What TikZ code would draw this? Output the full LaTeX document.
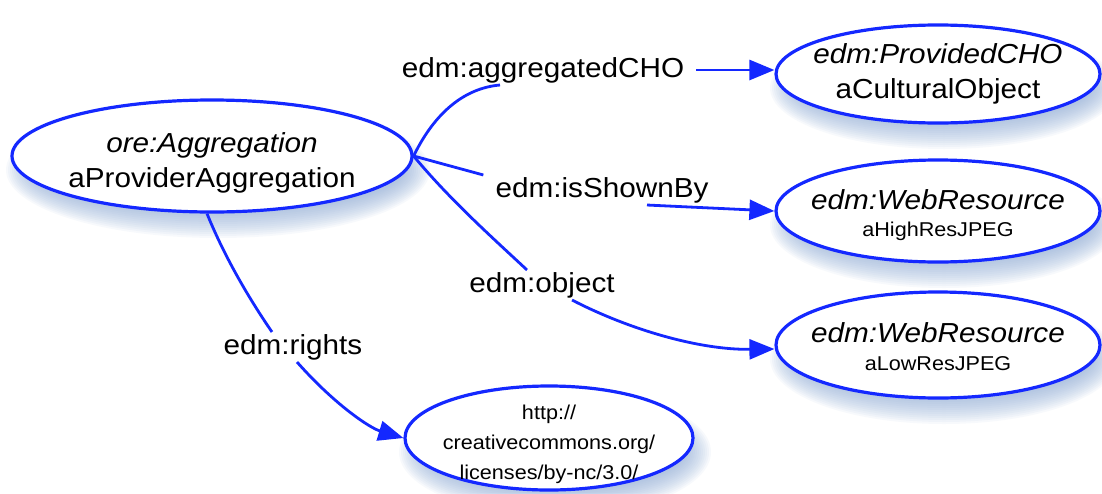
\documentclass[tikz,border=0pt]{standalone}
\usepackage{fontspec}
\setmainfont{Liberation Sans}[FakeStretch=1.08]
\usetikzlibrary{shapes.geometric,arrows.meta,backgrounds}
\definecolor{eblue}{RGB}{20,40,255}
\definecolor{shcol}{RGB}{140,170,215}
\begin{document}
\begin{tikzpicture}[x=1pt,y=-1pt,
  ent/.style={ellipse, draw=eblue, line width=3.2pt, fill=white, inner sep=0pt},
  txt/.style={align=center, inner sep=0pt, font=\fontsize{27.5}{35}\selectfont},
  lab/.style={inner xsep=12pt, inner ysep=2pt, font=\fontsize{27.5}{33}\selectfont},
  edge/.style={draw=eblue, line width=2.8pt},
  arr/.style={edge, -{Triangle[length=25pt,width=20pt]}}
]
\useasboundingbox (0,0) rectangle (1102,493);
\node[ent, minimum width=400pt, minimum height=112pt,
  label={[txt, yshift=-7pt]center:{\itshape ore:Aggregation\\aProviderAggregation}}] (agg) at (212,156) {};
\node[ent, minimum width=324pt, minimum height=98pt,
  label={[txt, yshift=0pt]center:{\itshape edm:ProvidedCHO\\aCulturalObject}}] (pc) at (938,74) {};
\node[ent, minimum width=324pt, minimum height=102pt,
  label={[txt, yshift=-4pt]center:{\itshape edm:WebResource\\[-8pt]{\fontsize{20}{24}\selectfont aHighResJPEG}}}] (ws1) at (938,211) {};
\node[ent, minimum width=324pt, minimum height=106pt,
  label={[txt, yshift=-2pt]center:{\itshape edm:WebResource\\[-7pt]{\fontsize{20}{24}\selectfont aLowResJPEG}}}] (ws2) at (938,345) {};
\node[ent, minimum width=288pt, minimum height=104pt,
  label={[txt, font=\fontsize{20}{30}\selectfont, yshift=-6pt]center:{http://\\creativecommons.org/\\licenses/by-nc/3.0/}}] (cc) at (549,438) {};

\node[lab] (lA) at (543,70) {edm:aggregatedCHO};
\node[lab] (lS) at (602,190) {edm:isShownBy};
\node[lab] (lO) at (542,285) {edm:object};
\node[lab] (lR) at (293,347) {edm:rights};

\draw[edge] (agg.east) .. controls (435,112) and (465,88) .. ([xshift=-43pt]lA.south);
\draw[arr] (lA.east) -- (lA.east -| pc.west);
\draw[edge] (agg.east) -- (lS.north west);
\draw[arr] ([xshift=45pt]lS.south) -- (ws1.west);
\draw[edge] (agg.east) .. controls (450,200) and (495,240) .. ([xshift=-15pt]lO.north);
\draw[arr] ([xshift=30pt]lO.south) .. controls (630,330) and (700,350) .. ([yshift=-4pt]ws2.west);
\draw[edge] ([xshift=-5pt]agg.south) .. controls (225,258) and (250,300) .. ([xshift=-21pt]lR.north);
\draw[arr] ([xshift=4pt]lR.south) .. controls (335,405) and (370,428) .. (cc.west);

\begin{pgfonlayer}{background}
\fill[white] (0,0) rectangle (1102,493);
\foreach \cx/\cy/\rx/\ry in {212/156/200/56, 938/74/162/49, 938/211/162/51, 938/345/162/53, 549/438/144/52}{
  \foreach \i in {0,...,13}{
    \pgfmathsetmacro\ax{\rx+12-2*\i}
    \pgfmathsetmacro\ay{\ry+12-2*\i}
    \fill[shcol,opacity=0.065] (\cx+6,\cy+14) ellipse [x radius=\ax pt, y radius=\ay pt];
  }}
\end{pgfonlayer}
\end{tikzpicture}
\end{document}
